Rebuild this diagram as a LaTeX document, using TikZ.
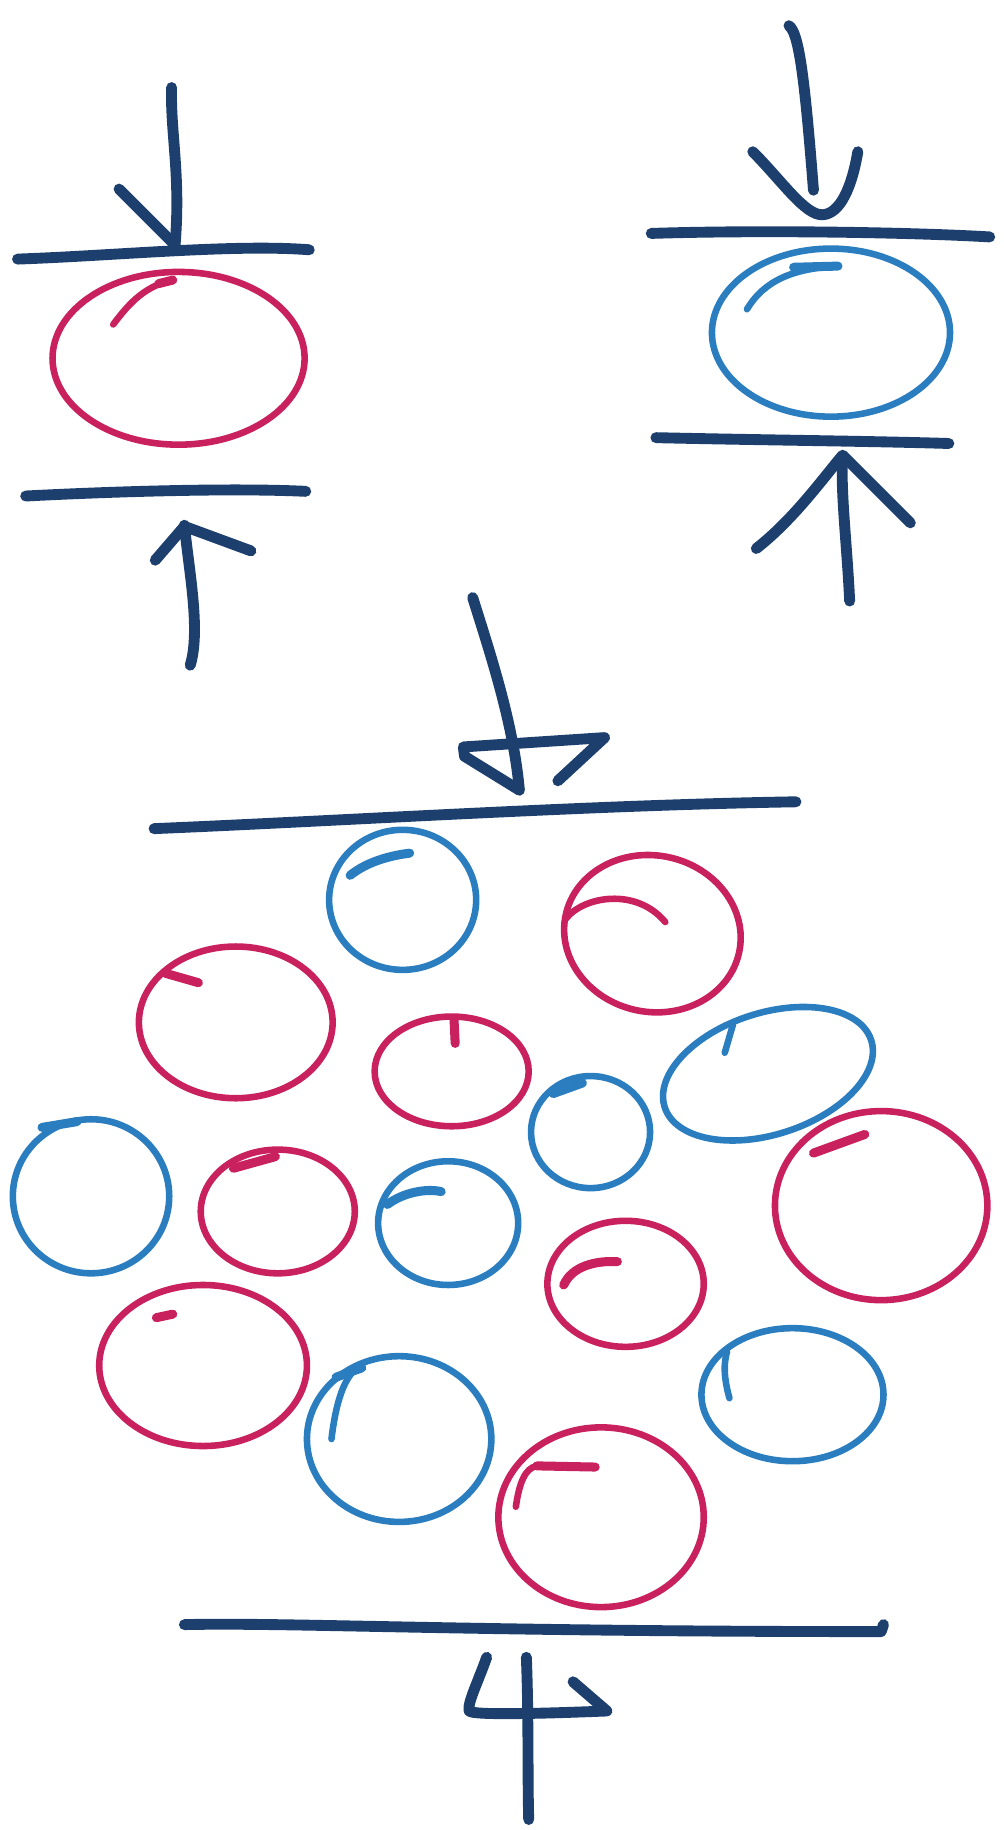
\documentclass[tikz,border=0pt]{standalone}
\definecolor{navy}{HTML}{1C3F6E}
\definecolor{rose}{HTML}{C8215E}
\definecolor{sky}{HTML}{2A7DBE}
\begin{document}
\begin{tikzpicture}[x=0.02cm,y=-0.02cm,line cap=round,line join=round,
  ink/.style={draw=navy,line width=5.3pt},
  pinkc/.style={draw=rose,line width=3.2pt},
  bluec/.style={draw=sky,line width=3.2pt},
  pinkt/.style={draw=rose,line width=4.4pt},
  bluet/.style={draw=sky,line width=4.4pt}]
\fill[white] (0,0) rectangle (860,1568);
\useasboundingbox (0,0) rectangle (860,1568);

% ---------- top left ----------
\draw[ink] (147,75) .. controls (146,115) and (155,150) .. (150,210);
\draw[ink] (102,162) -- (150,210);
\draw[ink] (15,222) .. controls (100,219) and (200,209) .. (265,214);
\draw[pinkc] (153,307) ellipse [x radius=108, y radius=74];
\draw[pinkc] (97,278) .. controls (112,258) and (125,245) .. (148,240);
\draw[pinkt] (136,243) -- (148,240);
\draw[ink] (22,425) .. controls (100,421) and (200,418) .. (262,421);
\draw[ink] (163,570) .. controls (172,540) and (162,490) .. (158,450);
\draw[ink] (133,480) -- (158,451) -- (215,472);

% ---------- top right ----------
\draw[ink] (676,22) .. controls (684,28) and (689,60) .. (697,163);
\draw[ink] (645,130) .. controls (670,155) and (690,185) .. (705,184)
  .. controls (720,183) and (730,160) .. (735,130);
\draw[ink] (558,200) .. controls (650,197) and (780,199) .. (848,203);
\draw[bluec] (712,285) ellipse [x radius=102, y radius=72];
\draw[bluec] (640,265) .. controls (655,240) and (680,230) .. (718,228);
\draw[bluet] (680,229) -- (718,228);
\draw[ink] (562,375) .. controls (650,377) and (750,378) .. (813,380);
\draw[ink] (728,515) .. controls (726,470) and (720,420) .. (722,392);
\draw[ink] (648,470) .. controls (680,445) and (705,410) .. (722,390) -- (780,448);

% ---------- middle arrow ----------
\draw[ink] (405,512) .. controls (420,560) and (440,620) .. (445,677);
\draw[ink] (445,677) -- (398,648) -- (397,640) -- (518,632) -- (478,669);
\draw[ink] (132,710) .. controls (300,703) and (500,690) .. (682,687);

% ---------- particles ----------
\draw[bluec] (345,771) ellipse [x radius=63, y radius=60];
\draw[bluet] (300,750) .. controls (315,738) and (335,733) .. (351,731);
\draw[pinkc,rotate around={-12:(559,800)}] (559,800) ellipse [x radius=76, y radius=67];
\draw[pinkc] (485,787) .. controls (500,768) and (545,760) .. (570,790);
\draw[pinkc] (202,876) ellipse [x radius=83, y radius=65];
\draw[pinkt] (142,834) -- (170,842);
\draw[pinkc] (387,918) ellipse [x radius=66, y radius=47];
\draw[pinkt] (389,873) -- (390,894);
\draw[bluec,rotate around={18:(658,920)}] (658,920) ellipse [x radius=93, y radius=52];
\draw[bluec] (621,902) -- (628,878);
\draw[bluec] (506,970) ellipse [x radius=51, y radius=48];
\draw[bluet] (474,937) -- (499,928);
\draw[bluec] (78,1025) ellipse [x radius=67, y radius=66];
\draw[bluet] (36,966) -- (66,961);
\draw[pinkc] (238,1038) ellipse [x radius=66, y radius=53];
\draw[pinkt] (200,1001) -- (236,991);
\draw[bluec] (384,1048) ellipse [x radius=60, y radius=53];
\draw[bluet] (332,1032) .. controls (345,1022) and (365,1018) .. (378,1021);
\draw[pinkc] (755,1033) ellipse [x radius=91, y radius=81];
\draw[pinkt] (697,988) -- (741,972);
\draw[pinkc] (536,1100) ellipse [x radius=67, y radius=54];
\draw[pinkt] (483,1101) .. controls (490,1085) and (510,1080) .. (529,1081);
\draw[pinkc] (174,1170) ellipse [x radius=89, y radius=69];
\draw[pinkt] (134,1129) -- (148,1126);
\draw[bluec] (342,1233) ellipse [x radius=79, y radius=71];
\draw[bluec] (284,1233) .. controls (288,1200) and (295,1180) .. (307,1171);
\draw[bluet] (288,1180) -- (310,1172);
\draw[bluec] (679,1195) ellipse [x radius=78, y radius=57];
\draw[bluec] (625,1198) .. controls (620,1180) and (620,1168) .. (623,1158);
\draw[pinkc] (515,1300) ellipse [x radius=88, y radius=77];
\draw[pinkc] (442,1291) .. controls (445,1270) and (450,1258) .. (460,1256);
\draw[pinkt] (460,1256) -- (510,1257);

% ---------- bottom ----------
\draw[ink] (158,1392) .. controls (250,1390) and (400,1398) .. (755,1398) -- (757,1392);
\draw[ink] (451,1420) .. controls (453,1470) and (452,1520) .. (453,1559);
\draw[ink] (417,1420) .. controls (410,1440) and (400,1460) .. (402,1466)
  .. controls (405,1470) and (470,1468) .. (520,1466) -- (491,1441);
\end{tikzpicture}
\end{document}
